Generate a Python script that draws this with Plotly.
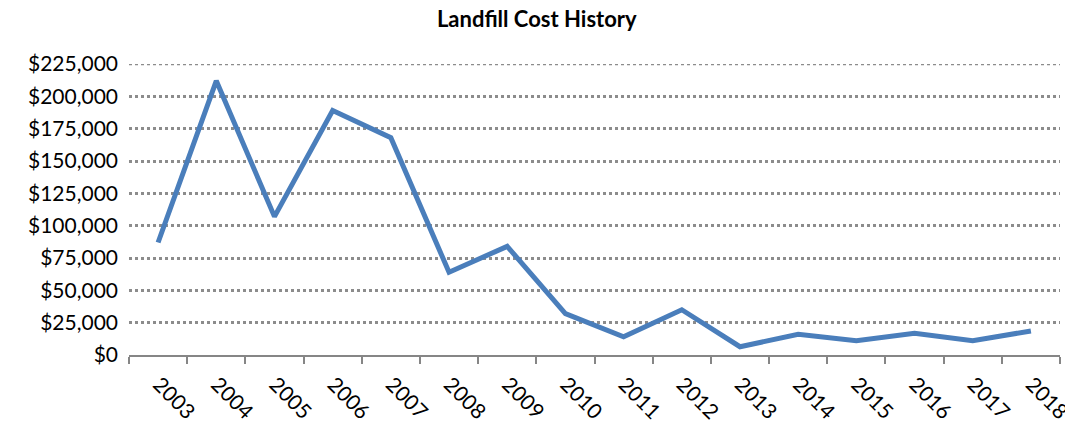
import plotly.graph_objects as go

years = [str(y) for y in range(2003, 2019)]
costs = [87000, 212000, 107000, 189000, 168000, 64000, 84000, 32000,
         14000, 35000, 6400, 16000, 11000, 16800, 11000, 18600]
y_ticks = list(range(0, 225001, 25000))
y_labels = [f"${v:,}" for v in y_ticks]

grid_color = "#8C8C8C"

fig = go.Figure(
    go.Scatter(x=years, y=costs, mode="lines",
               line=dict(color="#4A7EBB", width=5), hoverinfo="x+y")
)
# the page body adds an 8px margin, so the plot area is shifted up/left by 8px
fig.update_layout(
    title=dict(text="<b>Landfill Cost History</b>", x=0.4965, xanchor="center",
               yref="container", y=1 - 4 / 414, yanchor="top",
               font=dict(family="Lato", size=22, color="black")),
    width=1065, height=414,
    margin=dict(l=121, r=13, t=56, b=67),
    plot_bgcolor="white", paper_bgcolor="white",
    showlegend=False,
    font=dict(family="Lato", size=21, color="black"),
)
fig.update_xaxes(
    type="category", range=[-0.5, len(years) - 0.5],
    tickangle=45, tickson="boundaries", automargin=False,
    ticks="outside", ticklen=7, tickcolor="#868686", tickwidth=2,
    showline=True, linecolor="#868686", linewidth=2,
    showgrid=False, tickfont=dict(size=21),
    ticklabelshift=1, ticklabelstandoff=7,
)
fig.update_yaxes(
    range=[0, 225000], tickvals=y_ticks, ticktext=y_labels, automargin=False,
    showgrid=True, gridcolor=grid_color, gridwidth=2.5, griddash="3px,3px",
    zeroline=False, showline=False, ticks="", ticklabelstandoff=10,
)
# top gridline sits on the plot edge, where plotly skips it
fig.add_hline(y=y_ticks[-1], line=dict(color=grid_color, width=2.5, dash="3px,3px"))
fig.write_html("out.html")
